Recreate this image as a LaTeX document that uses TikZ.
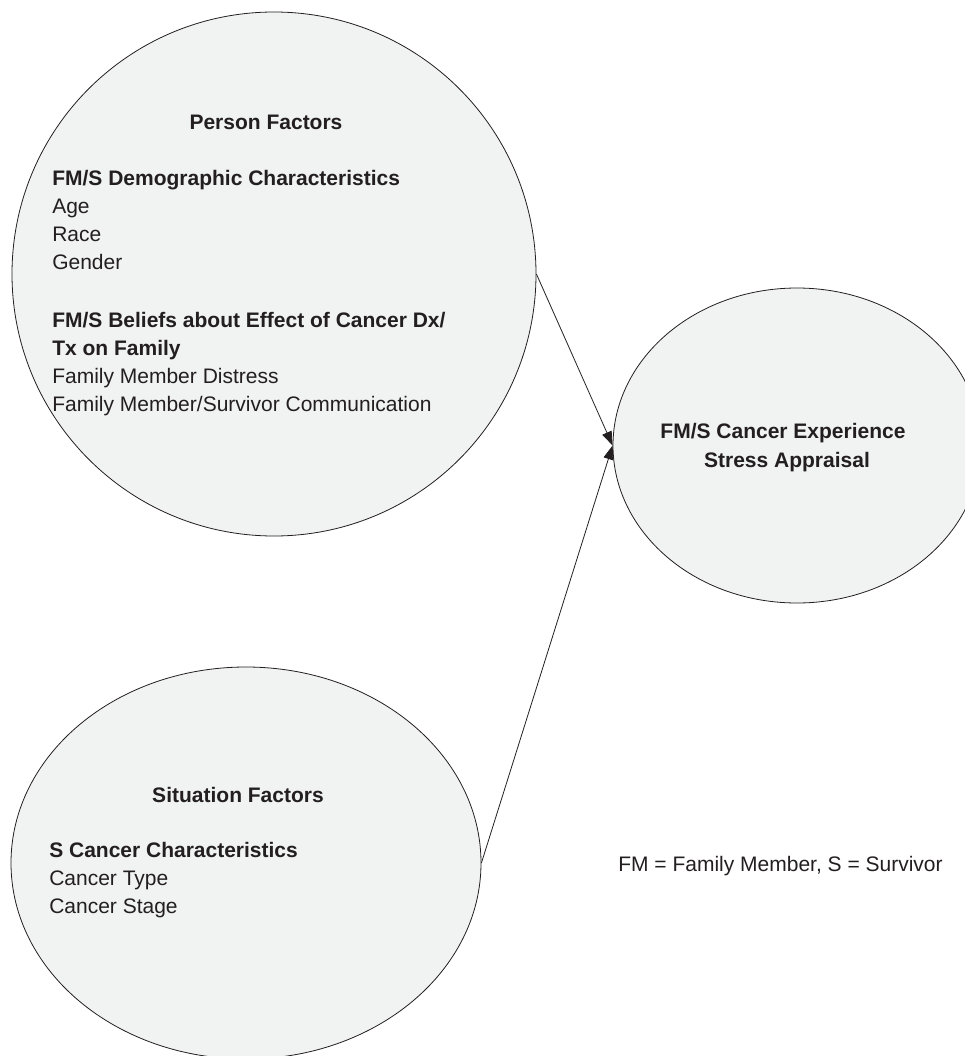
\documentclass[tikz,border=0pt]{standalone}
\usepackage{fontspec}
\setmainfont{Liberation Sans}
\usetikzlibrary{shapes.geometric,arrows.meta}
\definecolor{ink}{HTML}{231F20}
\definecolor{bubble}{HTML}{F1F2F2}
\tikzset{
  factor/.style={ellipse, draw=ink, fill=bubble, line width=0.6pt, inner sep=0pt},
  txt/.style={inner sep=0pt, anchor=base west, text=ink, font=\fontsize{15.75pt}{21pt}\selectfont},
  hd/.style={txt, font=\fontsize{15.75pt}{21pt}\selectfont\bfseries},
  ctr/.style={anchor=base},
  link/.style={draw=ink, line width=0.6pt, -{Triangle[length=10.5pt,width=7.5pt]}}
}
\begin{document}
\begin{tikzpicture}[x=0.75pt,y=-0.75pt]
\useasboundingbox (0,0) rectangle (964,1056);
\node[factor, minimum width=393pt, minimum height=393pt] (person) at (274,274) {};
\node[factor, minimum width=352.5pt, minimum height=294pt] (situation) at (246,863) {};
\node[factor, minimum width=276pt, minimum height=236.25pt] (stress) at (797,445.5) {};

\node[hd, ctr] (pf) at (266,129) {Person Factors};
\node[hd] (p1) at (52,185) {FM/S Demographic Characteristics};
\node[txt] (p2) at (52,213) {Age};
\node[txt] (p3) at (52,241) {Race};
\node[txt] (p4) at (52,269) {Gender};
\node[hd] (p5) at (52,327) {FM/S Beliefs about Effect of Cancer Dx/};
\node[hd] (p6) at (52,355) {Tx on Family};
\node[txt] (p7) at (52,383) {Family Member Distress};
\node[txt] (p8) at (52,411) {Family Member/Survivor Communication};

\node[hd, ctr] (sf) at (238,802) {Situation Factors};
\node[hd] (s1) at (49,857) {S Cancer Characteristics};
\node[txt] (s2) at (49,885) {Cancer Type};
\node[txt] (s3) at (49,913) {Cancer Stage};

\node[hd, ctr] (r1) at (783,438) {FM/S Cancer Experience};
\node[hd, ctr] (r2) at (787,467) {Stress Appraisal};

\node[txt] (legend) at (618,871) {FM = Family Member, S = Survivor};

\draw[link] (person.east) -- (stress.west);
\draw[link] (situation.east) -- (stress.west);
\end{tikzpicture}
\end{document}
